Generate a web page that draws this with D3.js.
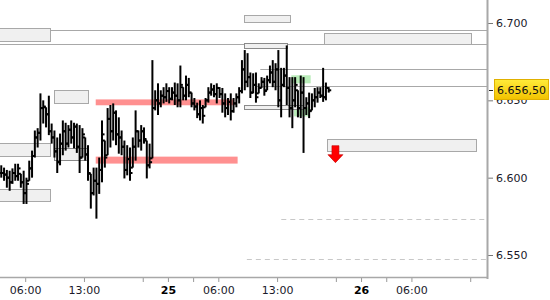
<!DOCTYPE html>
<html>
<head>
<meta charset="utf-8">
<script src="https://cdn.jsdelivr.net/npm/d3@7"></script>
<style>
  body { margin: 0; background: #fff; }
  svg { display: block; font-family: "DejaVu Sans", sans-serif; }
</style>
</head>
<body>
<svg id="chart" width="550" height="300"></svg>
<script>
// 20 minute OHLC bars, time in trading hours from the 24th 00:00 (1h daily break removed)
const firstBarHour = 3.15
const barStep = 1 / 3

const highs = [6608, 6606.5, 6605, 6604.5, 6606, 6609, 6609, 6602.5, 6604.5, 6600,
  6611, 6617.5, 6630.5, 6632, 6654.5, 6650, 6645.5, 6653, 6635, 6630.5,
  6626, 6628.5, 6637, 6635.5, 6634, 6637, 6635.5, 6635, 6634, 6632,
  6626, 6621, 6602.5, 6606.5, 6606.5, 6613, 6637, 6624, 6645, 6647,
  6648, 6643.5, 6639, 6630.5, 6624, 6621, 6619.5, 6626, 6643.5, 6630.5,
  6634, 6632.5, 6624, 6622, 6676, 6656.5, 6661, 6656.5, 6658.5, 6661,
  6658.5, 6658.5, 6661.5, 6661, 6672.5, 6658.5, 6666, 6664.5, 6655, 6651.5,
  6648.5, 6650, 6647, 6651.5, 6658.5, 6661, 6660, 6661, 6658.5, 6658,
  6654.5, 6651.5, 6654.5, 6651.5, 6654.5, 6658.5, 6676, 6682.5, 6680.5, 6668,
  6667.5, 6668, 6661, 6665, 6664.5, 6666, 6672.5, 6676, 6674, 6682.5,
  6671, 6671, 6685.5, 6665, 6665, 6665, 6656.5, 6666, 6665, 6652,
  6655, 6654.5, 6658, 6658.5, 6658.5, 6671, 6661.5, 6658.5]
const lows = [6600, 6598, 6593.5, 6591.5, 6596, 6598, 6598, 6593.5, 6583, 6583,
  6598, 6600, 6613, 6619.5, 6624, 6635, 6632.5, 6627.5, 6622, 6613,
  6603, 6608, 6614.5, 6617.5, 6619.5, 6622, 6619, 6616, 6603, 6613,
  6611, 6598, 6580, 6588.5, 6573.5, 6589.5, 6597, 6606.5, 6614.5, 6619.5,
  6624, 6621, 6615.5, 6614.5, 6599.5, 6601.5, 6598, 6606.5, 6611, 6619.5,
  6617.5, 6622, 6599.5, 6606, 6612.5, 6643.5, 6640.5, 6645.5, 6648, 6649,
  6648, 6650, 6647, 6645.5, 6645.5, 6650, 6650, 6652, 6645.5, 6643.5,
  6638.5, 6637, 6635, 6645.5, 6648.5, 6653, 6652, 6648, 6651.5, 6642,
  6639, 6640.5, 6637, 6642, 6645.5, 6648, 6654.5, 6656.5, 6658.5, 6651.5,
  6654.5, 6648.5, 6654.5, 6658, 6653, 6656.5, 6661, 6658.5, 6656.5, 6645.5,
  6639, 6658.5, 6647, 6639, 6632, 6645.5, 6639, 6638.5, 6616, 6640.5,
  6638.5, 6643.5, 6645.5, 6648.5, 6651.5, 6649, 6650, 6655]
const closes = [6603, 6602, 6600, 6597, 6603, 6601, 6606, 6597, 6590, 6596,
  6606, 6614, 6626, 6629, 6645, 6646, 6641, 6630, 6626, 6617,
  6610, 6622, 6630, 6622, 6631, 6626, 6633, 6620, 6613, 6628,
  6615, 6603, 6590, 6598, 6596, 6605, 6628, 6613, 6638, 6630,
  6642, 6628, 6626, 6620, 6605, 6612, 6603, 6620, 6630, 6624,
  6630, 6625, 6608, 6610, 6645, 6650, 6648, 6653, 6652, 6656,
  6651, 6655, 6653, 6650, 6660, 6653, 6660, 6655, 6648, 6646,
  6641, 6645, 6640, 6650, 6655, 6657, 6654, 6658, 6654, 6648,
  6645, 6649, 6643, 6648, 6652, 6656, 6670, 6662, 6665, 6655,
  6660, 6652, 6658, 6662, 6656, 6663, 6668, 6662, 6670, 6650,
  6660, 6666, 6658, 6645, 6650, 6660, 6645, 6655, 6645, 6648,
  6643, 6650, 6652, 6655, 6653, 6652, 6658, 6656.5]
const lastPrice = 6656.5

// axes
const priceTicks = [6550, 6600, 6650, 6700]
const timeTicks = [6, 13, 20, 23, 26, 29, 36, 43, 46, 49, 52, 59]
const timeLabels = { 6: "06:00", 13: "13:00", 23: "25", 29: "06:00", 36: "13:00", 46: "26", 52: "06:00" }
const dayTicks = [23, 46]

// overlay objects (hours / prices)
const levelLines = [
  { h0: 0, p: 6695.5 }, { h0: 0, p: 6686.2 },
  { h0: 34.0, p: 6670.1 }, { h0: 33.5, p: 6659.5 }
]
const dashedLines = [{ h0: 36.5, p: 6573.4 }, { h0: 32.4, p: 6547.4 }]
const redZones = [
  { h0: 14.4, h1: 30.9, p0: 6650.6, p1: 6646.8 },
  { h0: 14.4, h1: 31.3, p0: 6613.6, p1: 6609.1 }
]
const greenZones = [
  { h0: 37.7, h1: 40.0, p0: 6666.2, p1: 6661.0 },
  { h0: 38.0, h1: 39.8, p0: 6645.5, p1: 6639.6 }
]
const labelBoxes = [
  { h0: 2.8, h1: 8.95, p0: 6696.8, p1: 6688.3, dark: false },
  { h0: 9.43, h1: 13.48, p0: 6656.5, p1: 6648.0, dark: false },
  { h0: 2.8, h1: 8.95, p0: 6622.7, p1: 6614.3, dark: false },
  { h0: 9.43, h1: 13.48, p0: 6619.5, p1: 6611.7, dark: true },
  { h0: 2.8, h1: 8.95, p0: 6592.8, p1: 6585.1, dark: false },
  { h0: 32.06, h1: 37.54, p0: 6705.2, p1: 6700.6, dark: false },
  { h0: 32.06, h1: 37.2, p0: 6687.0, p1: 6683.8, dark: true },
  { h0: 41.6, h1: 59.1, p0: 6693.5, p1: 6686.4, dark: false },
  { h0: 32.06, h1: 39.1, p0: 6646.7, p1: 6644.1, dark: true },
  { h0: 41.9, h1: 59.7, p0: 6625.3, p1: 6617.5, dark: false }
]
const signal = { h: 42.95, p: 6609.7 }

const W = 550, H = 300
const plotRight = 487, plotBottom = 278

const de = d3.formatLocale({ decimal: ",", thousands: ".", grouping: [3], currency: ["", "€"] })
const fmtTick = de.format(",.0f")
const fmtPrice = de.format(",.2f")

const x = d3.scaleLinear().domain([3, 61]).range([0, plotRight])
const y = d3.scaleLinear().domain([6550, 6700]).range([255, 23])

const svg = d3.select("#chart")
const plot = svg.append("g")

// grey level lines
plot.selectAll(".level").data(levelLines).join("line")
  .attr("x1", d => x(d.h0)).attr("x2", plotRight)
  .attr("y1", d => Math.round(y(d.p)) + 0.5).attr("y2", d => Math.round(y(d.p)) + 0.5)
  .attr("stroke", "#a8a8a8").attr("stroke-width", 1)

plot.selectAll(".dash").data(dashedLines).join("line")
  .attr("x1", d => x(d.h0)).attr("x2", plotRight)
  .attr("y1", d => Math.round(y(d.p)) + 0.5).attr("y2", d => Math.round(y(d.p)) + 0.5)
  .attr("stroke", "#c8c8c8").attr("stroke-dasharray", "5,4")

plot.selectAll(".red").data(redZones).join("rect")
  .attr("x", d => x(d.h0)).attr("width", d => x(d.h1) - x(d.h0))
  .attr("y", d => y(d.p0)).attr("height", d => y(d.p1) - y(d.p0))
  .attr("fill", "#ff9090")

plot.selectAll(".green").data(greenZones).join("rect")
  .attr("x", d => x(d.h0)).attr("width", d => x(d.h1) - x(d.h0))
  .attr("y", d => y(d.p0)).attr("height", d => y(d.p1) - y(d.p0))
  .attr("fill", "#b9ecb9")

plot.selectAll(".box").data(labelBoxes).join("rect")
  .attr("x", d => Math.round(x(d.h0)) + 0.5).attr("width", d => Math.round(x(d.h1) - x(d.h0)))
  .attr("y", d => Math.round(y(d.p0)) + 0.5).attr("height", d => Math.round(y(d.p1) - y(d.p0)))
  .attr("fill", "#f0f0f0")
  .attr("stroke", d => d.dark ? "#8a8a8a" : "#a8a8a8")

// OHLC bars
const bars = highs.map((hi, i) => {
  const prev = i > 0 ? closes[i - 1] : closes[i]
  return {
    t: firstBarHour + i * barStep,
    high: hi, low: lows[i], close: closes[i],
    open: Math.max(lows[i], Math.min(hi, prev))
  }
})

const barG = plot.selectAll(".bar").data(bars).join("g")
  .attr("transform", d => `translate(${x(d.t)},0)`)
barG.append("line")
  .attr("y1", d => y(d.high)).attr("y2", d => y(d.low))
  .attr("stroke", "#000").attr("stroke-width", 2)
barG.append("line")
  .attr("x1", -2.5).attr("x2", 0)
  .attr("y1", d => y(d.open)).attr("y2", d => y(d.open))
  .attr("stroke", "#000").attr("stroke-width", 2)
barG.append("line")
  .attr("x1", 0).attr("x2", 2.5)
  .attr("y1", d => y(d.close)).attr("y2", d => y(d.close))
  .attr("stroke", "#000").attr("stroke-width", 2)

// red down arrow
const ax = x(signal.h), ay = y(signal.p)
plot.append("path")
  .attr("d", `M${ax - 3.5},${ay - 17} h7 v9 h4 l-7.5,8 l-7.5,-8 h4 z`)
  .attr("fill", "#ff0000").attr("stroke", "#c00000").attr("stroke-width", 0.6)

// axes
const yAxis = svg.append("g")
  .attr("transform", `translate(${plotRight + 1},0)`)
  .call(d3.axisRight(y).tickValues(priceTicks).tickSize(5).tickPadding(3).tickFormat(fmtTick))
yAxis.select(".domain").remove()
yAxis.selectAll(".tick line").attr("stroke", "#777")
yAxis.selectAll(".tick text").attr("font-size", 11).attr("fill", "#1a1a2a")
  .attr("font-family", "DejaVu Sans")

const xAxis = svg.append("g")
  .attr("transform", `translate(0,${plotBottom})`)
  .call(d3.axisBottom(x).tickValues(timeTicks).tickSize(4).tickPadding(4)
    .tickFormat(d => timeLabels[d] || ""))
xAxis.select(".domain").remove()
xAxis.selectAll(".tick line").attr("stroke", "#999")
xAxis.selectAll(".tick text").attr("font-size", 11).attr("font-family", "DejaVu Sans")
  .attr("fill", d => dayTicks.includes(d) ? "#000" : "#1a1a2a")
  .attr("font-weight", d => dayTicks.includes(d) ? "bold" : "normal")

// frame lines
svg.append("line")
  .attr("x1", plotRight + 0.5).attr("x2", plotRight + 0.5).attr("y1", 0).attr("y2", plotBottom + 1)
  .attr("stroke", "#a8a8a8").attr("stroke-width", 2)
svg.append("line")
  .attr("x1", 0).attr("x2", plotRight).attr("y1", plotBottom - 0.5).attr("y2", plotBottom - 0.5)
  .attr("stroke", "#a8a8a8").attr("stroke-width", 1.5)

// last price label
const grad = svg.append("defs").append("linearGradient")
  .attr("id", "gold").attr("x1", 0).attr("x2", 0).attr("y1", 0).attr("y2", 1)
grad.append("stop").attr("offset", 0).attr("stop-color", "#ffec3a")
grad.append("stop").attr("offset", 1).attr("stop-color", "#f2c200")

const ly = Math.round(y(lastPrice))
svg.append("line")
  .attr("x1", plotRight + 2).attr("x2", plotRight + 6).attr("y1", ly + 0.5).attr("y2", ly + 0.5)
  .attr("stroke", "#222")
svg.append("rect")
  .attr("x", 494.5).attr("y", ly - 10.5).attr("width", 54).attr("height", 20)
  .attr("fill", "url(#gold)").attr("stroke", "#e0b000")
svg.append("text")
  .attr("x", 497).attr("y", ly + 4)
  .attr("font-size", 11).attr("fill", "#111")
  .text(fmtPrice(lastPrice))
</script>
</body>
</html>
